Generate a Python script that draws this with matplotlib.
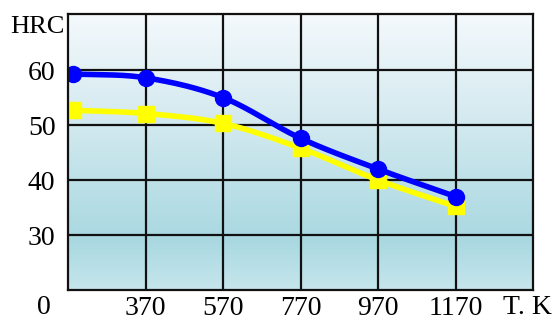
import numpy as np
import matplotlib
matplotlib.use("Agg")
import matplotlib.pyplot as plt
from matplotlib.colors import LinearSegmentedColormap

temps = [183, 370, 570, 770, 970, 1170]
hrc_blue = [59.3, 58.6, 55.0, 47.6, 42.0, 37.0]
hrc_yellow = [52.7, 52.1, 50.3, 45.8, 40.0, 35.2]
xticks = [370, 570, 770, 970, 1170]
yticks = [30, 40, 50, 60]

plt.rcParams['font.family'] = ['Liberation Serif', 'DejaVu Serif']

def smooth(x, y, n=30):
    x = np.asarray(x, float); y = np.asarray(y, float)
    px = np.concatenate([[2*x[0]-x[1]], x, [2*x[-1]-x[-2]]])
    py = np.concatenate([[2*y[0]-y[1]], y, [2*y[-1]-y[-2]]])
    xs, ys = [], []
    for i in range(1, len(px)-2):
        t = np.linspace(0, 1, n, endpoint=False)
        for arr, out in ((px, xs), (py, ys)):
            p0, p1, p2, p3 = arr[i-1], arr[i], arr[i+1], arr[i+2]
            out.extend(0.5*((2*p1) + (-p0+p2)*t + (2*p0-5*p1+4*p2-p3)*t**2 + (-p0+3*p1-3*p2+p3)*t**3))
    xs.append(x[-1]); ys.append(y[-1])
    return np.array(xs), np.array(ys)

fig = plt.figure(figsize=(5.55, 3.2), dpi=100)
ax = fig.add_axes([68/555, 1-290/320, (533-68)/555, (290-14)/320])
x0, x1, y0, y1 = 170, 1370, 20, 70.2
ax.set_xlim(x0, x1); ax.set_ylim(y0, y1)

cmap = LinearSegmentedColormap.from_list('bg', [(0, '#f4f9fc'), (0.4, '#d2e9ef'), (0.82, '#a9d8e1'), (1.0, '#c6e6ec')])
grad = np.linspace(0, 1, 256).reshape(-1, 1)
ax.imshow(grad, aspect='auto', cmap=cmap, extent=[x0, x1, y0, y1], zorder=0, origin='upper')

for xv in xticks:
    ax.axvline(xv, color='#111111', lw=1.6, zorder=1)
for yv in yticks:
    ax.axhline(yv, color='#111111', lw=1.6, zorder=1)

sx, sy = smooth(temps, hrc_yellow)
ax.plot(sx, sy, color='#ffff00', lw=4, zorder=2, solid_capstyle='round')
ax.plot(temps, hrc_yellow, 's', color='#ffff00', ms=11, zorder=3)
sx, sy = smooth(temps, hrc_blue)
ax.plot(sx, sy, color='#0000ff', lw=4, zorder=4, solid_capstyle='round')
ax.plot(temps, hrc_blue, 'o', color='#0000ff', ms=11.5, zorder=5)

ax.set_xticks(xticks)
ax.set_xticklabels([str(v) for v in xticks])
ax.set_yticks(yticks)
ax.set_yticklabels([str(v) for v in yticks])
ax.tick_params(length=0, labelsize=20)
ax.tick_params(axis='x', pad=4)
ax.tick_params(axis='y', pad=9)
for s in ax.spines.values():
    s.set_linewidth(1.6); s.set_color('#111111'); s.set_zorder(6)

fig.text(44/555, 1-308/320, '0', fontsize=20, ha='center', va='center')
fig.text(37/555, 1-27/320, 'HRC', fontsize=19, ha='center', va='center')
fig.text(527/555, 1-308/320, 'T. K', fontsize=20, ha='center', va='center')

fig.savefig('out.png', dpi=100)
